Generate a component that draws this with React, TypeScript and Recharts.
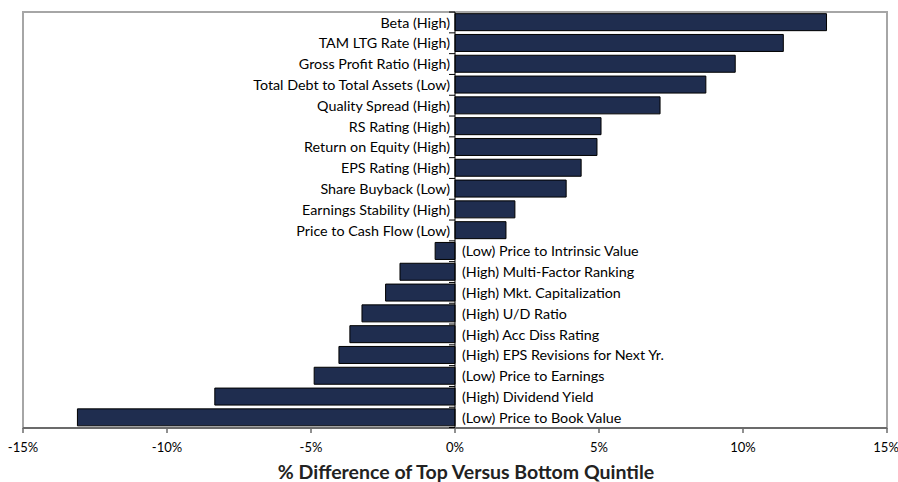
import React from 'react';
import { BarChart, Bar, XAxis, YAxis, ReferenceLine, ReferenceArea, LabelList } from 'recharts';

const categories = [
  'Beta (High)',
  'TAM LTG Rate (High)',
  'Gross Profit Ratio (High)',
  'Total Debt to Total Assets (Low)',
  'Quality Spread (High)',
  'RS Rating (High)',
  'Return on Equity (High)',
  'EPS Rating (High)',
  'Share Buyback (Low)',
  'Earnings Stability (High)',
  'Price to Cash Flow (Low)',
  '(Low) Price to Intrinsic Value',
  '(High) Multi-Factor Ranking',
  '(High) Mkt. Capitalization',
  '(High) U/D Ratio',
  '(High) Acc Diss Rating',
  '(High) EPS Revisions for Next Yr.',
  '(Low) Price to Earnings',
  '(High) Dividend Yield',
  '(Low) Price to Book Value',
];

const values = [
  12.9, 11.4, 9.73, 8.71, 7.12, 5.07, 4.93, 4.38, 3.86, 2.08, 1.77,
  -0.69, -1.91, -2.41, -3.23, -3.65, -4.03, -4.89, -8.34, -13.11,
];

const xTicks = [-15, -10, -5, 0, 5, 10, 15];
const xTitle = '% Difference of Top Versus Bottom Quintile';

const data = categories.map((name, i) => ({ name, value: values[i] }));

const FONT = 'Lato, "Liberation Sans", sans-serif';
const GAP_RATIO = 0.08 / 0.84;

const renderLabel = (props: any) => {
  const { x, y, width, height, index } = props;
  const v = values[index];
  const left = Math.min(x, x + width);
  const right = Math.max(x, x + width);
  const zero = v >= 0 ? left : right;
  const cy = y + height / 2;
  const gap = height * GAP_RATIO;
  const topB = y - gap;
  const botB = y + height + gap;
  return (
    <g key={`lbl-${index}`}>
      <line x1={zero - 6} x2={zero} y1={topB} y2={topB} stroke="#000" strokeWidth={1} />
      {index === values.length - 1 && (
        <line x1={zero - 6} x2={zero} y1={botB} y2={botB} stroke="#000" strokeWidth={1} />
      )}
      <text
        x={v >= 0 ? zero - 5 : zero + 7}
        y={cy}
        textAnchor={v >= 0 ? 'end' : 'start'}
        dominantBaseline="central"
        fontSize={14.3}
        fontFamily={FONT}
        fill="#000"
      >
        {categories[index]}
      </text>
    </g>
  );
};

const renderTitle = (props: any) => {
  const vb = props.viewBox || {};
  return (
    <text
      x={vb.x + vb.width / 2 + 11}
      y={vb.y + vb.height - 3}
      textAnchor="middle"
      fontSize={19.5}
      fontWeight="bold"
      fontFamily={FONT}
      fill="#222"
    >
      {xTitle}
    </text>
  );
};

export default function App() {
  return (
    <div style={{ position: 'absolute', left: 0, top: 0, width: 898, height: 482, background: '#fff' }}>
      <BarChart
        width={898}
        height={482}
        data={data}
        layout="vertical"
        margin={{ top: 12, right: 11, bottom: 0, left: 23 }}
        barCategoryGap="8%"
      >
        <ReferenceArea x1={-15} x2={15} fill="none" stroke="#a6a6a6" strokeWidth={2} ifOverflow="visible" />
        <XAxis
          type="number"
          domain={[-15, 15]}
          ticks={xTicks}
          allowDataOverflow
          tickFormatter={(v: number) => `${v}%`}
          height={54}
          axisLine={{ stroke: '#6b6b6b', strokeWidth: 2 }}
          tickLine={{ stroke: '#6b6b6b', strokeWidth: 1.5 }}
          tickSize={5}
          tickMargin={10}
          tick={{ fontSize: 13, fill: '#000', fontFamily: FONT }}
          label={{ content: renderTitle }}
        />
        <YAxis type="category" dataKey="name" hide />
        <Bar dataKey="value" fill="#1f2d4f" stroke="#000" strokeWidth={1} isAnimationActive={false}>
          <LabelList dataKey="name" content={renderLabel} />
        </Bar>
        <ReferenceLine x={0} stroke="#000" strokeWidth={1} />
      </BarChart>
    </div>
  );
}
